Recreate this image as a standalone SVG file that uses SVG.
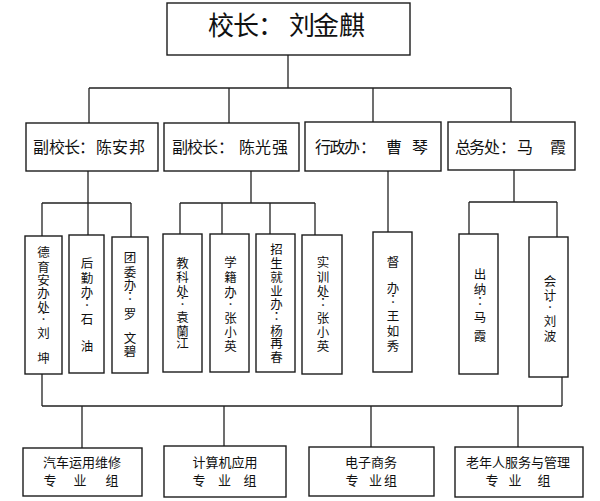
<svg xmlns="http://www.w3.org/2000/svg" width="600" height="501" viewBox="0 0 600 501">
<style>
.bx{fill:#fff;stroke:#1c1c1c;stroke-width:1.4}
.ln{fill:none;stroke:#222;stroke-width:1.3}
text{font-family:"Noto Sans CJK SC","Noto Sans CJK JP",sans-serif;fill:#111}
.t1{font-size:26px}
.t2{font-size:16px}
.t3{font-size:13px;text-anchor:middle}
.tv{font-size:12.5px;text-anchor:middle}
.c{font-family:"Noto Sans CJK JP","Noto Sans CJK SC",sans-serif}
</style>
<rect width="600" height="501" fill="#fff"/>
<g id="connectors" class="ln">
<path d="M288 55V88M89 88H511M89 88V123M229 88V123M373 88V122M511 88V122"/>
<path d="M88 171V203M42 203H131M42 203V236M88 203V235M131 203V237"/>
<path d="M251 171V203M180 203H315M180 203V234M222 203V234M270 203V234M315 203V235"/>
<path d="M388 171V232"/>
<path d="M514 170V202M469 202H557M469 202V234M557 202V237"/>
<path d="M42 374V406M562 377V406M42 406H562M82 406V448M224 406V446M371 406V447M518 406V447"/>
</g>
<g id="principal">
<rect class="bx" x="167" y="3" width="243" height="52"/>
<text class="t1" y="35"><tspan x="208">校</tspan><tspan x="233">长</tspan><tspan x="258">：</tspan><tspan x="289">刘</tspan><tspan x="313">金</tspan><tspan x="339">麒</tspan></text>
</g>
<g id="vp1">
<rect class="bx" x="26" y="123" width="132" height="48"/>
<text class="t2" y="153"><tspan x="33">副</tspan><tspan x="49">校</tspan><tspan x="64">长</tspan><tspan x="79">：</tspan><tspan x="96">陈</tspan><tspan x="112">安</tspan><tspan x="129">邦</tspan></text>
</g>
<g id="vp2">
<rect class="bx" x="164" y="123" width="135" height="48"/>
<text class="t2" y="153"><tspan x="172">副</tspan><tspan x="187">校</tspan><tspan x="202">长</tspan><tspan x="218">：</tspan><tspan x="239">陈</tspan><tspan x="255">光</tspan><tspan x="272">强</tspan></text>
</g>
<g id="admin">
<rect class="bx" x="305" y="122" width="136" height="49"/>
<text class="t2" y="153"><tspan x="315">行</tspan><tspan x="329.5">政</tspan><tspan x="344">办</tspan><tspan x="360">：</tspan><tspan x="386">曹</tspan><tspan x="412">琴</tspan></text>
</g>
<g id="general">
<rect class="bx" x="448" y="122" width="127" height="48"/>
<text class="t2" y="153"><tspan x="455">总</tspan><tspan x="469">务</tspan><tspan x="484">处</tspan><tspan x="500">：</tspan><tspan x="517">马</tspan><tspan x="550">霞</tspan></text>
</g>
<g id="deyu">
<rect class="bx" x="25" y="236" width="37" height="138"/>
<text class="tv"><tspan x="43.5" y="257">德</tspan><tspan x="43.5" y="272">育</tspan><tspan x="43.5" y="285">安</tspan><tspan x="43.5" y="298">办</tspan><tspan x="43.5" y="312">处</tspan><tspan class="c" x="43.5" y="321">：</tspan><tspan x="43.5" y="338">刘</tspan><tspan x="43.5" y="363">坤</tspan></text>
</g>
<g id="houqin">
<rect class="bx" x="69" y="235" width="35" height="138"/>
<text class="tv"><tspan x="87" y="268">后</tspan><tspan x="87" y="283">勤</tspan><tspan x="87" y="297">办</tspan><tspan class="c" x="87" y="307">：</tspan><tspan x="87" y="324">石</tspan><tspan x="87" y="351">油</tspan></text>
</g>
<g id="tuanwei">
<rect class="bx" x="112" y="237" width="36" height="136"/>
<text class="tv"><tspan x="130" y="262">团</tspan><tspan x="130" y="277">委</tspan><tspan x="130" y="290">办</tspan><tspan class="c" x="130" y="301">：</tspan><tspan x="130" y="319">罗</tspan><tspan x="130" y="343">文</tspan><tspan x="130" y="356">碧</tspan></text>
</g>
<g id="jiaoke">
<rect class="bx" x="163" y="234" width="39" height="138"/>
<text class="tv"><tspan x="182.5" y="268">教</tspan><tspan x="182.5" y="282">科</tspan><tspan x="182.5" y="296">处</tspan><tspan class="c" x="182.5" y="306">：</tspan><tspan x="182.5" y="322">袁</tspan><tspan x="182.5" y="336">蘭</tspan><tspan x="182.5" y="348">江</tspan></text>
</g>
<g id="xueji">
<rect class="bx" x="210" y="234" width="39" height="138"/>
<text class="tv"><tspan x="230.5" y="267">学</tspan><tspan x="230.5" y="282">籍</tspan><tspan x="230.5" y="297">办</tspan><tspan class="c" x="230.5" y="306">：</tspan><tspan x="230.5" y="323">张</tspan><tspan x="230.5" y="337">小</tspan><tspan x="230.5" y="351">英</tspan></text>
</g>
<g id="zhaosheng">
<rect class="bx" x="256" y="234" width="39" height="138"/>
<text class="tv"><tspan x="276.5" y="254">招</tspan><tspan x="276.5" y="268">生</tspan><tspan x="276.5" y="282">就</tspan><tspan x="276.5" y="296">业</tspan><tspan x="276.5" y="309">办</tspan><tspan class="c" x="276.5" y="321">：</tspan><tspan x="276.5" y="336">杨</tspan><tspan x="276.5" y="348">再</tspan><tspan x="276.5" y="362">春</tspan></text>
</g>
<g id="shixun">
<rect class="bx" x="302" y="235" width="40" height="139"/>
<text class="tv"><tspan x="323" y="267">实</tspan><tspan x="323" y="282">训</tspan><tspan x="323" y="296">处</tspan><tspan class="c" x="323" y="307">：</tspan><tspan x="323" y="323">张</tspan><tspan x="323" y="337">小</tspan><tspan x="323" y="351">英</tspan></text>
</g>
<g id="duban">
<rect class="bx" x="373" y="232" width="39" height="140"/>
<text class="tv"><tspan x="393" y="267">督</tspan><tspan x="393" y="293">办</tspan><tspan class="c" x="393" y="304">：</tspan><tspan x="393" y="321">王</tspan><tspan x="393" y="336">如</tspan><tspan x="393" y="351">秀</tspan></text>
</g>
<g id="chuna">
<rect class="bx" x="459" y="234" width="39" height="140"/>
<text class="tv"><tspan x="480" y="279">出</tspan><tspan x="480" y="294">纳</tspan><tspan class="c" x="480" y="306">：</tspan><tspan x="480" y="322">马</tspan><tspan x="480" y="341">霞</tspan></text>
</g>
<g id="kuaiji">
<rect class="bx" x="529" y="237" width="39" height="140"/>
<text class="tv"><tspan x="550" y="286">会</tspan><tspan x="550" y="300">计</tspan><tspan class="c" x="550" y="309">：</tspan><tspan x="550" y="326">刘</tspan><tspan x="550" y="341">波</tspan></text>
</g>
<g id="group-auto">
<rect class="bx" x="23" y="448" width="119" height="48"/>
<text class="t3" x="82" y="466.5">汽车运用维修</text>
<text class="t3" y="485"><tspan x="50">专</tspan><tspan x="80">业</tspan><tspan x="112">组</tspan></text>
</g>
<g id="group-computer">
<rect class="bx" x="164" y="446" width="122" height="51"/>
<text class="t3" x="225" y="466.5">计算机应用</text>
<text class="t3" y="485"><tspan x="199">专</tspan><tspan x="224.5">业</tspan><tspan x="250">组</tspan></text>
</g>
<g id="group-ecommerce">
<rect class="bx" x="309" y="447" width="125" height="49"/>
<text class="t3" x="371" y="466.5">电子商务</text>
<text class="t3" y="485"><tspan x="352">专</tspan><tspan x="375.5">业</tspan><tspan x="390.5">组</tspan></text>
</g>
<g id="group-elderly">
<rect class="bx" x="455" y="447" width="128" height="50"/>
<text class="t3" x="518" y="466.5">老年人服务与管理</text>
<text class="t3" y="485"><tspan x="492">专</tspan><tspan x="515">业</tspan><tspan x="544">组</tspan></text>
</g>
</svg>
